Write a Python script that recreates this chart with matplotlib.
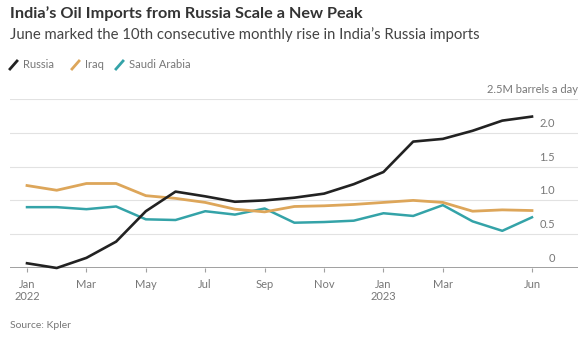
import numpy as np
import matplotlib
matplotlib.use("Agg")
import matplotlib.pyplot as plt
from matplotlib.transforms import blended_transform_factory

# monthly imports, million barrels a day (Jan 2022 - Jun 2023)
months = np.arange(18)
russia = [0.07, 0.0, 0.15, 0.39, 0.84, 1.13, 1.06, 0.98, 1.0, 1.04, 1.10, 1.24,
          1.42, 1.87, 1.91, 2.03, 2.18, 2.24]
iraq = [1.22, 1.15, 1.25, 1.25, 1.07, 1.03, 0.97, 0.87, 0.83, 0.91, 0.92, 0.94,
        0.97, 1.0, 0.97, 0.84, 0.86, 0.85]
saudi = [0.90, 0.90, 0.87, 0.91, 0.72, 0.71, 0.84, 0.79, 0.88, 0.67, 0.68, 0.70,
         0.81, 0.77, 0.93, 0.69, 0.55, 0.75]
tick_pos = [0, 2, 4, 6, 8, 10, 12, 14, 17]
tick_lbl = ["Jan\n2022", "Mar", "May", "Jul", "Sep", "Nov", "Jan\n2023", "Mar", "Jun"]
y_ticks = [0, 0.5, 1.0, 1.5, 2.0, 2.5]
y_lbl = ["0", "0.5", "1.0", "1.5", "2.0", "2.5M barrels a day"]

c_rus = "#222222"
c_irq = "#DDA65A"
c_sau = "#34A3A8"
font = "Lato"

W, H = 582, 339
fig = plt.figure(figsize=(W / 100, H / 100), dpi=100)
fig.patch.set_facecolor("white")

# axes in pixel coords: left 10, right 578, bottom 268, top 99
px = 29.7
ax = fig.add_axes([10 / W, (H - 268) / H, 568 / W, (268 - 99) / H])
ax.set_xlim(-17 / px, 17 + (578 - 532) / px)
ax.set_ylim(0, 2.5)

for v in y_ticks[1:]:
    ax.axhline(v, color="#e2e2e2", lw=0.8, zorder=1)
ax.axhline(0, color="#a0a0a0", lw=1.4, zorder=2)

ax.plot(months, saudi, color=c_sau, lw=1.8, zorder=3, clip_on=False)
ax.plot(months, iraq, color=c_irq, lw=2.0, zorder=3, clip_on=False)
ax.plot(months, russia, color=c_rus, lw=1.9, zorder=4, clip_on=False)

for s in ax.spines.values():
    s.set_visible(False)
ax.set_yticks([])
ax.set_xticks(tick_pos)
ax.set_xticklabels(tick_lbl, fontsize=8, color="#777777", family=font,
                   linespacing=1.05)
ax.tick_params(axis="x", length=3, width=0.8, color="#a0a0a0", pad=5)

tr = blended_transform_factory(ax.transAxes, ax.transData)
for v, t in zip(y_ticks, y_lbl):
    xr = 1.0 if v == 2.5 else 1 - 23 / 568
    ax.text(xr, v + 0.06, t, transform=tr, ha="right", va="bottom",
            fontsize=8, color="#777777", family=font)

fig.text(10 / W, 1 - 14 / H, "India\u2019s Oil Imports from Russia Scale a New Peak",
         fontsize=11.7, fontweight="bold", color="#333333", family=font, va="center")
fig.text(10 / W, 1 - 35 / H,
         "June marked the 10th consecutive monthly rise in India\u2019s Russia imports",
         fontsize=10.7, color="#444444", family=font, va="center")

# legend with slanted line icons
leg = [("Russia", c_rus, 10), ("Iraq", c_irq, 72), ("Saudi Arabia", c_sau, 116)]
for name, c, x0 in leg:
    fig.add_artist(plt.Line2D([(x0) / W, (x0 + 7) / W],
                              [1 - 69 / H, 1 - 61 / H], color=c, lw=2))
    fig.text((x0 + 13) / W, 1 - 65 / H, name, fontsize=8, color="#777777",
             family=font, va="center")

fig.text(10 / W, 1 - 326 / H, "Source: Kpler", fontsize=7.5, color="#777777",
         family=font, va="center")

fig.savefig("out.png", dpi=100)
